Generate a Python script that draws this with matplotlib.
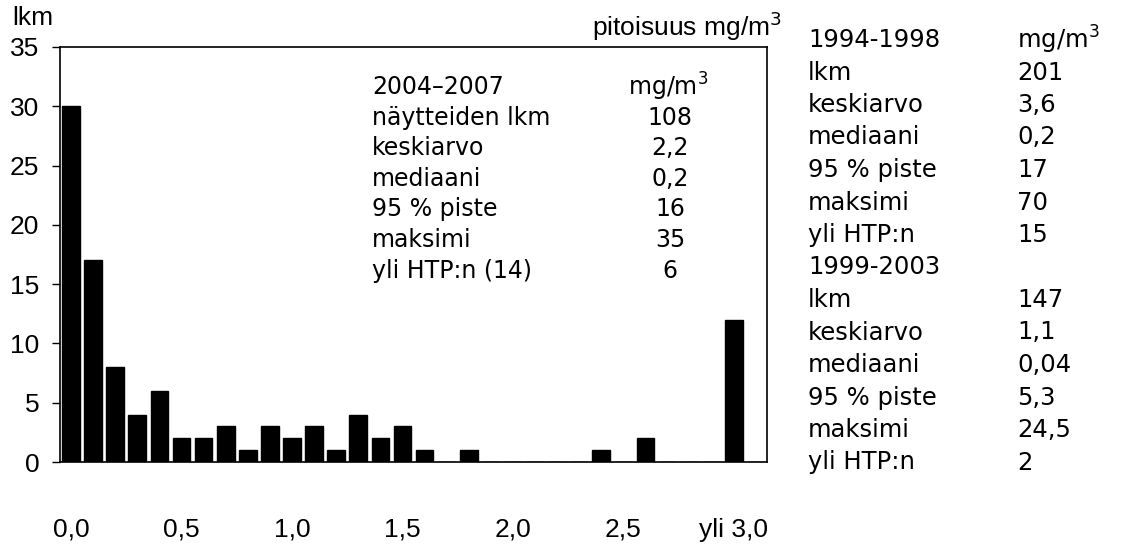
import matplotlib
matplotlib.use('Agg')
import matplotlib.pyplot as plt

# pitoisuusluokat 0,0 ... 2,9 ja "yli 3,0", viimeinen paikka jätetään tyhjäksi
classes = [f'{i / 10:.1f}'.replace('.', ',') for i in range(30)] + ['yli 3,0', '']
counts = [30, 17, 8, 4, 6, 2, 2, 3, 1, 3,
          2, 3, 1, 4, 2, 3, 1, 0, 1, 0,
          0, 0, 0, 0, 1, 0, 2, 0, 0, 0,
          12, 0]
tick_idx = [0, 5, 10, 15, 20, 25, 30]
tick_labels = ['0,0', '0,5', '1,0', '1,5', '2,0', '2,5', 'yli 3,0']

# 2004-2007 tunnusluvut
stats_rows = ['näytteiden lkm', 'keskiarvo', 'mediaani', '95 % piste', 'maksimi', 'yli HTP:n (14)']
stats_2004 = ['108', '2,2', '0,2', '16', '35', '6']

# aiemmat jaksot
old_rows = ['lkm', 'keskiarvo', 'mediaani', '95 % piste', 'maksimi', 'yli HTP:n']
stats_1994 = ['201', '3,6', '0,2', '17', '70', '15']
stats_1999 = ['147', '1,1', '0,04', '5,3', '24,5', '2']

W, H = 1127, 544
axfont = ['Liberation Sans', 'DejaVu Sans']
wide = ['DejaVu Sans']
plt.rcParams['mathtext.fontset'] = 'custom'
plt.rcParams['mathtext.rm'] = 'DejaVu Sans'


def fx(x):
    return x / W


def fy(y):
    return 1 - y / H


fig = plt.figure(figsize=(W / 100, H / 100), dpi=100)
ax = fig.add_axes([fx(60), fy(462), fx(767) - fx(60), fy(47) - fy(462)])

x = range(len(counts))
ax.bar(x, counts, width=0.8, color='black', edgecolor='black')
ax.set_xlim(-0.5, len(counts) - 0.5)
ax.set_ylim(0, 35)
ax.set_yticks(range(0, 36, 5))
ax.set_xticks(tick_idx)
ax.set_xticklabels(tick_labels)
ax.tick_params(axis='x', length=0, pad=40)
ax.tick_params(axis='y', length=6, width=1, pad=9, direction='out')
for lbl in ax.get_xticklabels() + ax.get_yticklabels():
    lbl.set_family(axfont)
    lbl.set_fontsize(19)
for s in ax.spines.values():
    s.set_linewidth(1.2)

fig.text(fx(12), fy(18), 'lkm', family=axfont, fontsize=19, va='center')
fig.text(fx(782), fy(26), 'pitoisuus mg/m$^3$', family=axfont, fontsize=19,
         ha='right', va='center')

# tunnusluvut kuvan sisällä
fs_in = 17
fig.text(fx(372), fy(87), '2004–2007', family=wide, fontsize=fs_in, va='center')
fig.text(fx(668), fy(87), 'mg/m$^3$', family=wide, fontsize=fs_in, ha='center', va='center')
for i, (name, val) in enumerate(zip(stats_rows, stats_2004)):
    y = 117.5 + 30.6 * i
    fig.text(fx(372), fy(y), name, family=wide, fontsize=fs_in, va='center')
    fig.text(fx(670), fy(y), val, family=wide, fontsize=fs_in, ha='center', va='center')

# aiempien jaksojen luvut oikealla
fs_out = 17.5
step = 32.5
fig.text(fx(808), fy(40), '1994-1998', family=wide, fontsize=fs_out, va='center')
fig.text(fx(1017), fy(40), 'mg/m$^3$', family=wide, fontsize=fs_out, va='center')
for i, (name, val) in enumerate(zip(old_rows, stats_1994)):
    y = 40 + step * (i + 1)
    fig.text(fx(808), fy(y), name, family=wide, fontsize=fs_out, va='center')
    fig.text(fx(1017), fy(y), val, family=wide, fontsize=fs_out, va='center')
fig.text(fx(808), fy(40 + step * 7), '1999-2003', family=wide, fontsize=fs_out, va='center')
for i, (name, val) in enumerate(zip(old_rows, stats_1999)):
    y = 40 + step * (i + 8)
    fig.text(fx(808), fy(y), name, family=wide, fontsize=fs_out, va='center')
    fig.text(fx(1017), fy(y), val, family=wide, fontsize=fs_out, va='center')

fig.savefig('out.png', dpi=100)
